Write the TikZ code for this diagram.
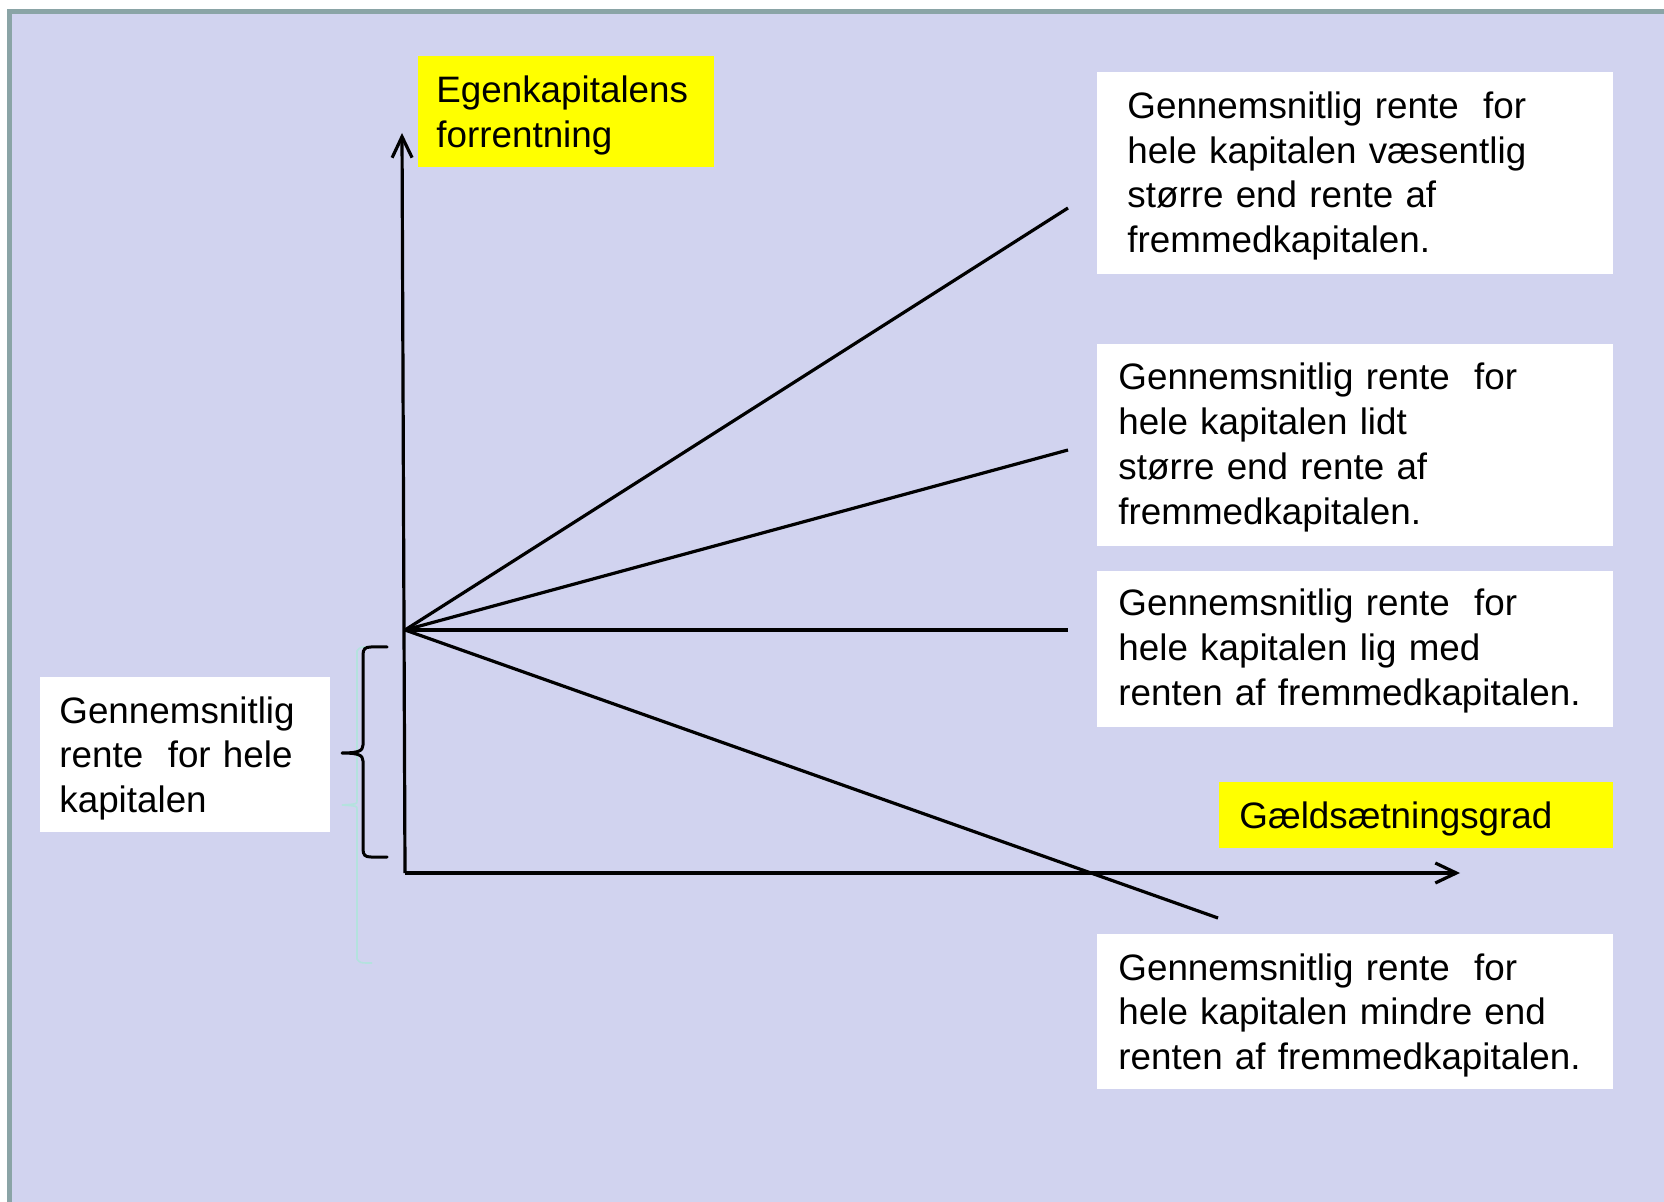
\documentclass[tikz,border=0pt]{standalone}
\usepackage{fontspec}
\setmainfont{Liberation Sans}
\usetikzlibrary{arrows.meta}
\definecolor{panelfill}{HTML}{D1D3EF}
\definecolor{panelframe}{HTML}{8AA4A6}
\definecolor{hilite}{HTML}{FFFF00}
\definecolor{faintline}{HTML}{B4E2DE}

\begin{document}
\begin{tikzpicture}[x=0.5pt,y=-0.5pt,
  box/.style={fill=white, draw=none, anchor=north west, inner sep=0pt},
  ybox/.style={fill=hilite, draw=none, anchor=north west, inner sep=0pt},
  txt/.style={anchor=base west, inner sep=0pt, text width=300pt, align=left,
    font=\fontsize{18.4}{22.4}\selectfont},
  axis/.style={line width=1.6pt, -{Straight Barb[length=10.5pt,width=10pt]}},
  ray/.style={line width=1.6pt},
  bracket/.style={line width=1.5pt, line cap=round, line join=round},
  faintbracket/.style={line width=0.8pt, faintline}]

% canvas and panel
\useasboundingbox (0,0) rectangle (1664,1202);
\fill[white] (0,0) rectangle (1664,1202);
\fill[panelframe] (7,9) rectangle (1664,1202);
\fill[panelfill] (12,14) rectangle (1664,1202);

% faint bracket behind the black one
\draw[faintbracket] (372,647) .. controls (360,647) .. (357,651) -- (357,801)
  .. controls (357,804) .. (342,805) .. controls (357,806) .. (357,809)
  -- (357,959) .. controls (360,963) .. (372,963);

% text boxes
\node[ybox, minimum width=148pt, minimum height=55.5pt] (yb1) at (418,56) {};
\node[txt] (ty1) at (436,103) {Egenkapitalens\\forrentning};

\node[ybox, minimum width=197pt, minimum height=33pt] (yb2) at (1219,782) {};
\node[txt] (ty2) at (1239,828) {Gældsætningsgrad};

\node[box, minimum width=258pt, minimum height=101pt] (b1) at (1097,72) {};
\node[txt] (t1) at (1127,118.4) {Gennemsnitlig rente~~for\\hele kapitalen væsentlig\\større end rente af\\fremmedkapitalen.};

\node[box, minimum width=258pt, minimum height=101pt] (b2) at (1097,344) {};
\node[txt] (t2) at (1118,390) {Gennemsnitlig rente~~for\\hele kapitalen lidt\\større end rente af\\fremmedkapitalen.};

\node[box, minimum width=258pt, minimum height=78pt] (b3) at (1097,571) {};
\node[txt] (t3) at (1118,616) {Gennemsnitlig rente~~for\\hele kapitalen lig med\\renten af fremmedkapitalen.};

\node[box, minimum width=258pt, minimum height=77.5pt] (b4) at (1097,934) {};
\node[txt] (t4) at (1118,980) {Gennemsnitlig rente~~for\\hele kapitalen mindre end\\renten af fremmedkapitalen.};

\node[box, minimum width=145pt, minimum height=77.5pt] (bl) at (40,677) {};
\node[txt] (tl) at (59,723) {Gennemsnitlig\\rente~~for hele\\kapitalen};

% axes
\coordinate (orig) at (405,873);
\coordinate (ytip) at (402,133);
\coordinate (xtip) at (1460,873);
\draw[axis] (orig) -- (ytip);
\draw[axis] (orig) -- (xtip);

% rays from the common starting point
\coordinate (start) at (405,630);
\coordinate (e1) at (1068,208);
\coordinate (e2) at (1068,450);
\coordinate (e3) at (1068,630);
\coordinate (e4) at (1218,918);
\draw[ray] (start) -- (e1);
\draw[ray] (start) -- (e2);
\draw[ray] (start) -- (e3);
\draw[ray] (start) -- (e4);

% curly bracket
\draw[bracket] (387,647) -- (371,647) .. controls (365,647) and (363,649) .. (363,655)
  -- (363,745) .. controls (363,751) and (358,753) .. (342,753)
  .. controls (358,753) and (363,755) .. (363,761)
  -- (363,849) .. controls (363,855) and (365,857) .. (371,857) -- (387,857);
\end{tikzpicture}
\end{document}
